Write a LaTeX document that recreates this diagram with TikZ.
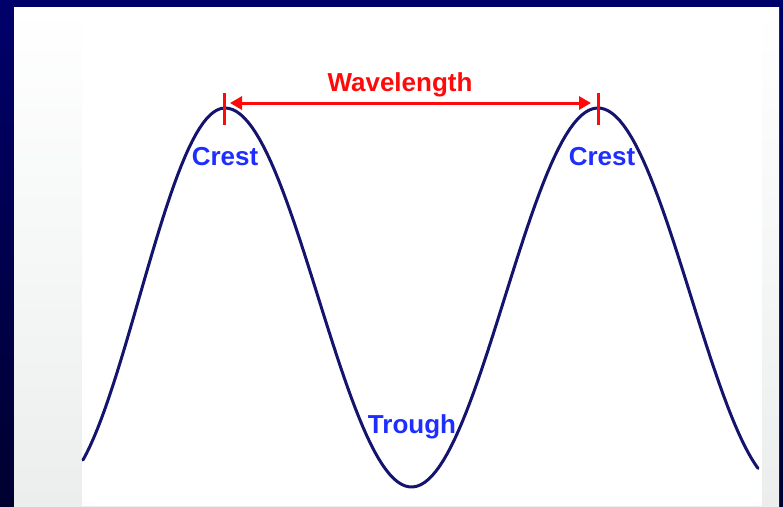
\documentclass[tikz,border=0pt]{standalone}
\usepackage{fontspec}
\setmainfont{Liberation Sans}
\usepackage{xcolor}
\usetikzlibrary{arrows.meta,positioning,calc}
\definecolor{wvFrameTop}{HTML}{00006B}
\definecolor{wvFrameLow}{HTML}{000030}
\definecolor{wvSlide}{HTML}{ECEEEE}
\definecolor{wvNavy}{HTML}{14146E}
\definecolor{wvBlue}{HTML}{1E2EFF}
\definecolor{wvRed}{HTML}{FF0A0A}
\tikzset{
  wave line/.style={draw=wvNavy,line width=3pt,line cap=round,line join=round},
  wave label/.style={text=wvBlue,font=\bfseries\fontsize{26}{30}\selectfont,inner sep=0pt},
  span label/.style={wave label,text=wvRed},
  span tick/.style={draw=wvRed,line width=3pt},
  span arrow/.style={{Triangle[length=12pt,width=13pt]}-{Triangle[length=12pt,width=13pt]},
    line width=3pt,draw=wvRed,fill=wvRed}
}
\begin{document}
\begin{tikzpicture}[x=1pt,y=-1pt]
\useasboundingbox (0,0) rectangle (783,506);
% frame and slide background
\shade[top color=wvFrameTop,bottom color=wvFrameLow] (0,0) rectangle (783,506);
\shade[top color=white,bottom color=wvSlide] (14,7) rectangle (779,506);
\fill[white] (82,7) rectangle (762,506);
% the wave (left flank a little steeper)
\draw[wave line] plot[domain=83:225,samples=40] (\x,{297.5-189.5*cos((\x-225)*(360/343))})
  -- plot[domain=225:758,samples=140] (\x,{297.5-189.5*cos((\x-225)*(360/373))});
% wavelength marker
\coordinate (crestA) at (224,109);
\coordinate (crestB) at (598,109);
\draw[span tick] ($(crestA)+(0,-16)$) -- ($(crestA)+(0,16)$);
\draw[span tick] ($(crestB)+(0,-16)$) -- ($(crestB)+(0,16)$);
\draw[span arrow,shorten <=6pt,shorten >=7pt] ($(crestA)+(0,-6)$) -- ($(crestB)+(0,-6)$);
\node[span label] (wavelength) at (400,85) {Wavelength};
\node[wave label] (crestLabelA) at (225,157) {Crest};
\node[wave label] (crestLabelB) at (602,157) {Crest};
\node[wave label] (troughLabel) at (412,427) {Trough};
\end{tikzpicture}
\end{document}
